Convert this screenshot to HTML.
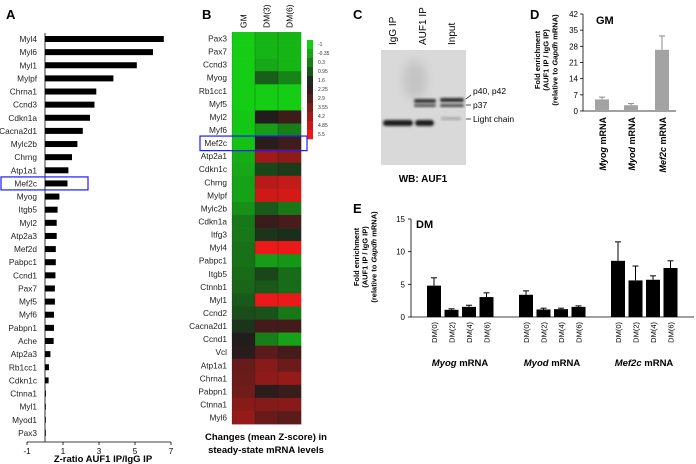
<!DOCTYPE html>
<html><head><meta charset="utf-8"><style>
body{margin:0;background:#fff}
svg{display:block;font-family:"Liberation Sans",Arial,sans-serif}
</style></head><body>
<svg id="fig" width="696" height="464" viewBox="0 0 696 464">
<defs>
<filter id="bl" x="-20%" y="-50%" width="140%" height="200%"><feGaussianBlur stdDeviation="1.2"/></filter>
<filter id="bl2" x="-50%" y="-50%" width="200%" height="200%"><feGaussianBlur stdDeviation="5"/></filter>
</defs>
<!-- Panel letters -->
<text x="6" y="19" font-size="13" font-weight="bold">A</text>
<text x="202" y="19" font-size="13" font-weight="bold">B</text>
<text x="353" y="19" font-size="13" font-weight="bold">C</text>
<text x="530" y="19" font-size="13" font-weight="bold">D</text>
<text x="353" y="213" font-size="13" font-weight="bold">E</text>

<g id="pA"></g>
<g id="pB"></g>

<!-- Panel C blot -->
<g>
<text transform="translate(396,45) rotate(-90)" font-size="10">IgG IP</text>
<text transform="translate(426,45) rotate(-90)" font-size="10">AUF1 IP</text>
<text transform="translate(455,45) rotate(-90)" font-size="10">Input</text>
<rect x="381" y="50" width="85" height="115" fill="#d9d9d9"/>
<ellipse cx="415" cy="80" rx="12" ry="20" fill="#c4c4c4" filter="url(#bl2)"/>
<rect x="383" y="120" width="30" height="6" rx="3" fill="#1a1a1a" filter="url(#bl)"/>
<rect x="415" y="120" width="19" height="6" rx="3" fill="#1a1a1a" filter="url(#bl)"/>
<rect x="414" y="99" width="22" height="4" rx="2" fill="#333" filter="url(#bl)"/>
<rect x="414" y="104" width="22" height="3" rx="1.5" fill="#555" filter="url(#bl)"/>
<rect x="440" y="98" width="24" height="4" rx="2" fill="#2a2a2a" filter="url(#bl)"/>
<rect x="440" y="104" width="24" height="3" rx="1.5" fill="#4a4a4a" filter="url(#bl)"/>
<rect x="441" y="117" width="20" height="3" rx="1.5" fill="#aaa" filter="url(#bl)"/>
<line x1="466" y1="99" x2="471" y2="95" stroke="#000" stroke-width="0.7"/>
<line x1="466" y1="105" x2="471" y2="105" stroke="#000" stroke-width="0.7"/>
<line x1="466" y1="119" x2="471" y2="119" stroke="#000" stroke-width="0.7"/>
<text x="473" y="94" font-size="8.5">p40, p42</text>
<text x="473" y="108" font-size="8.5">p37</text>
<text x="473" y="122" font-size="8.5">Light chain</text>
<text x="423" y="182" font-size="10" font-weight="bold" text-anchor="middle">WB: AUF1</text>
</g>

<g id="pD"></g>
<g id="pE"></g>
</svg>
<script>
const NS="http://www.w3.org/2000/svg";
function mk(parent,tag,attrs,text){const e=document.createElementNS(NS,tag);for(const k in attrs)e.setAttribute(k,attrs[k]);if(text!==undefined)e.textContent=text;parent.appendChild(e);return e;}

// ---------- Panel A data ----------
const aGenes=["Myl4","Myl6","Myl1","Mylpf","Chrna1","Ccnd3","Cdkn1a","Cacna2d1","Mylc2b","Chrng","Atp1a1","Mef2c","Myog","Itgb5","Myl2","Atp2a3","Mef2d","Pabpc1","Ccnd1","Pax7","Myf5","Myf6","Pabpn1","Ache","Atp2a3","Rb1cc1","Cdkn1c","Ctnna1","Myl1","Myod1","Pax3"];
const aValues=[6.6,6.0,5.1,3.8,2.85,2.75,2.5,2.1,1.8,1.5,1.3,1.25,0.8,0.7,0.65,0.65,0.6,0.6,0.58,0.55,0.55,0.5,0.5,0.48,0.3,0.22,0.2,0.05,0.04,0.02,0.02];
const aTicks=[-1,1,3,5,7];

(function(){
  const g=document.getElementById('pA');
  const xS=v=>45+v*18.0;
  const yS=i=>39+i*13.13;
  aGenes.forEach((n,i)=>{
    const r=mk(g,'rect',{x:xS(0),y:yS(i)-3,width:Math.max(0.8,xS(aValues[i])-xS(0)),height:6,fill:'#000'});
    
    
    const t=mk(g,'text',{x:37,y:yS(i)+3,'font-size':8.3,'text-anchor':'end',fill:'#222'},n);
    
    
  });
  mk(g,'line',{x1:xS(0),y1:33,x2:xS(0),y2:442,stroke:'#000','stroke-width':0.8});
  mk(g,'line',{x1:xS(-1),y1:442,x2:xS(7),y2:442,stroke:'#000','stroke-width':0.8});
  aTicks.forEach(v=>{
    mk(g,'line',{x1:xS(v),y1:442,x2:xS(v),y2:445,stroke:'#000','stroke-width':0.8});
    const t=mk(g,'text',{x:xS(v),y:454,'font-size':8,'text-anchor':'middle'},v);
    
    
  });
  const tt=mk(g,'text',{x:103,y:462,'font-size':9.5,'font-weight':'bold','text-anchor':'middle'},'Z-ratio AUF1 IP/IgG IP');
  
  
  const bx=mk(g,'rect',{x:1,y:yS(11)-6.5,width:87,height:13,fill:'none',stroke:'#1a1aff','stroke-width':1.2});
  
  
})();

// ---------- Panel B data ----------
const bGenes=["Pax3","Pax7","Ccnd3","Myog","Rb1cc1","Myf5","Myl2","Myf6","Mef2c","Atp2a1","Cdkn1c","Chrng","Mylpf","Mylc2b","Cdkn1a","Itfg3","Myl4","Pabpc1","Itgb5","Ctnnb1","Myl1","Ccnd2","Cacna2d1","Ccnd1","Vcl","Atp1a1","Chrna1","Pabpn1","Ctnna1","Myl6"];
const bColumns=["GM","DM(3)","DM(6)"];
const bGM=[-1,-1,-1,-1,-1,-1,-0.9,-0.9,-0.8,-0.5,-0.4,-0.3,-0.3,0,0.4,0.4,0.5,0.5,0.6,0.7,0.9,1.1,1.5,2.0,2.1,3.2,3.3,3.4,3.8,4.0];
const bDM3=[-0.6,-0.6,-0.4,0.8,-1,-1,2.0,-0.2,2.1,4.2,1.2,4.6,5.0,0.9,2.4,1.5,5.5,-0.2,1.2,0.9,5.5,1.0,2.6,0.3,3.0,3.8,3.9,2.2,3.7,3.2];
const bDM6=[-0.6,-0.6,-0.6,0.2,-1,-1,2.5,0.3,2.5,3.9,1.4,4.8,5.1,0.4,2.7,1.6,5.5,-0.1,0.6,0.6,5.5,0.4,2.6,-0.3,2.6,3.3,4.0,2.4,3.8,3.0];
const bLegend=["-1","-0.35","0.3","0.95","1.6","2.25","2.9","3.55","4.2","4.85","5.5"];

function heatColor(v){
  const lo=[20,205,20],mid=[28,28,28],hi=[235,25,25];
  let a,b,t;
  if(v<1.9){a=lo;b=mid;t=(v+1)/2.9;}else{a=mid;b=hi;t=(v-1.9)/3.6;}
  t=Math.max(0,Math.min(1,t));
  return 'rgb('+a.map((c,i)=>Math.round(c+(b[i]-c)*t)).join(',')+')';
}
(function(){
  const g=document.getElementById('pB');
  const x0=232,cw=23,y0=32,rh=13.07;
  const cols=[bGM,bDM3,bDM6];
  cols.forEach((arr,c)=>{
    arr.forEach((v,r)=>{
      const rc=mk(g,'rect',{x:x0+c*cw,y:y0+r*rh,width:cw+0.3,height:rh+0.3,fill:heatColor(v)});
      
      
    });
    mk(g,'line',{x1:x0+c*cw,y1:y0,x2:x0+c*cw,y2:y0+30*rh,stroke:'#111','stroke-width':0.4,opacity:0.5});
    const t=mk(g,'text',{transform:'translate('+(x0+c*cw+cw/2+3)+',28) rotate(-90)','font-size':8.5,'text-anchor':'start'},bColumns[c]);
    
    
    t.setAttribute('transform','translate('+(x0+c*cw+cw/2+3)+',28) rotate(-90)');
  });
  bGenes.forEach((n,r)=>{
    const t=mk(g,'text',{x:227,y:y0+r*rh+rh/2+3,'font-size':8.3,'text-anchor':'end',fill:'#222'},n);
    
    
  });
  // legend
  const lh=9;
  bLegend.forEach((l,i)=>{
    const rc=mk(g,'rect',{x:307,y:40+i*lh,width:6,height:lh+0.3,fill:heatColor(parseFloat(l))});
    
    
    const t=mk(g,'text',{x:318,y:40+i*lh+6,'font-size':5,fill:'#333'},l);
    
    
  });
  const bx=mk(g,'rect',{x:200,y:y0+8*rh-0.5,width:107,height:rh+1.5,fill:'none',stroke:'#1a1aff','stroke-width':1.2});
  
  
  const c1=mk(g,'text',{x:266,y:440,'font-size':9.5,'font-weight':'bold','text-anchor':'middle'},'Changes (mean Z-score) in');
  
  
  const c2=mk(g,'text',{x:266,y:453,'font-size':9.5,'font-weight':'bold','text-anchor':'middle'},'steady-state mRNA levels');
  
  
})();

// ---------- Panel D data ----------
const dCats=["Myog","Myod","Mef2c"];
const dValues=[5.0,2.5,26.5];
const dErrors=[6.0,3.2,32.5];
const dTicks=[0,7,14,21,28,35,42];

function yTitle(g,cx,cy,fs){
  const lines=[["Fold enrichment"],["(AUF1 IP / IgG IP)"],["(relative to ","Gapdh"," mRNA)"]];
  lines.forEach((ln,i)=>{
    const t=mk(g,'text',{transform:'translate('+(cx+i*fs*1.15)+','+cy+') rotate(-90)','font-size':fs,'font-weight':'bold','text-anchor':'middle'});
    
    
    ln.forEach((s,j)=>{const sp=mk(t,'tspan',{},s);if(j===1)sp.setAttribute('font-style','italic');});
  });
}
(function(){
  const g=document.getElementById('pD');
  const yS=v=>111-v*(97/42);
  const xAxis=583;
  const centers=[602,631,662];
  mk(g,'line',{x1:xAxis,y1:yS(42),x2:xAxis,y2:yS(0),stroke:'#000','stroke-width':0.8});
  mk(g,'line',{x1:xAxis,y1:yS(0),x2:676,y2:yS(0),stroke:'#000','stroke-width':0.8});
  dTicks.forEach(v=>{
    mk(g,'line',{x1:xAxis-3,y1:yS(v),x2:xAxis,y2:yS(v),stroke:'#000','stroke-width':0.8});
    const t=mk(g,'text',{x:xAxis-5,y:yS(v)+3,'font-size':8,'text-anchor':'end'},v);
    
    
  });
  dCats.forEach((c,i)=>{
    const cx=centers[i];
    mk(g,'line',{x1:cx,y1:yS(dValues[i]),x2:cx,y2:yS(dErrors[i]),stroke:'#888','stroke-width':1});
    mk(g,'line',{x1:cx-3,y1:yS(dErrors[i]),x2:cx+3,y2:yS(dErrors[i]),stroke:'#888','stroke-width':1});
    const r=mk(g,'rect',{x:cx-7,y:yS(dValues[i]),width:14,height:yS(0)-yS(dValues[i]),fill:'#a3a3a3'});
    
    
    const t=mk(g,'text',{transform:'translate('+(cx+4)+',117) rotate(-90)','font-size':9,'font-weight':'bold','text-anchor':'end'});
    
    
    mk(t,'tspan',{'font-style':'italic'},c);
    mk(t,'tspan',{},' mRNA');
  });
  const gm=mk(g,'text',{x:596,y:24,'font-size':11,'font-weight':'bold'},'GM');
  
  
  yTitle(g,540,60,7.5);
})();

// ---------- Panel E data ----------
const eGroups=["Myog","Myod","Mef2c"];
const eDays=["DM(0)","DM(2)","DM(4)","DM(6)"];
const eMyog=[4.8,1.1,1.55,3.05];
const eMyogErr=[6.0,1.25,1.8,3.7];
const eMyod=[3.4,1.15,1.2,1.55];
const eMyodErr=[4.0,1.35,1.35,1.7];
const eMef2c=[8.6,5.6,5.7,7.5];
const eMef2cErr=[11.5,7.8,6.3,8.6];
const eTicks=[0,5,10,15];
(function(){
  const g=document.getElementById('pE');
  const yS=v=>317-v*(98/15);
  const xAxis=411;
  const vals=[eMyog,eMyod,eMef2c],errs=[eMyogErr,eMyodErr,eMef2cErr];
  mk(g,'line',{x1:xAxis,y1:yS(15),x2:xAxis,y2:yS(0),stroke:'#000','stroke-width':0.8});
  mk(g,'line',{x1:xAxis,y1:yS(0),x2:694,y2:yS(0),stroke:'#000','stroke-width':0.8});
  eTicks.forEach(v=>{
    mk(g,'line',{x1:xAxis-3,y1:yS(v),x2:xAxis,y2:yS(v),stroke:'#000','stroke-width':0.8});
    const t=mk(g,'text',{x:xAxis-6,y:yS(v)+3,'font-size':8,'text-anchor':'end'},v);
    
    
  });
  eGroups.forEach((gn,gi)=>{
    const gx=434+gi*92;
    eDays.forEach((d,di)=>{
      const cx=gx+di*17.5;
      const v=vals[gi][di],e=errs[gi][di];
      mk(g,'line',{x1:cx,y1:yS(v),x2:cx,y2:yS(e),stroke:'#000','stroke-width':1});
      mk(g,'line',{x1:cx-3,y1:yS(e),x2:cx+3,y2:yS(e),stroke:'#000','stroke-width':1});
      const r=mk(g,'rect',{x:cx-7,y:yS(v),width:14,height:yS(0)-yS(v),fill:'#000'});
      
      
      const t=mk(g,'text',{transform:'translate('+(cx+3)+',322) rotate(-90)','font-size':7.5,'text-anchor':'end'},d);
      
      
    });
    const t=mk(g,'text',{x:gx+26,y:366,'font-size':9.5,'font-weight':'bold','text-anchor':'middle'});
    
    
    mk(t,'tspan',{'font-style':'italic'},gn);
    mk(t,'tspan',{},' mRNA');
  });
  const dm=mk(g,'text',{x:416,y:228,'font-size':11,'font-weight':'bold'},'DM');
  
  
  yTitle(g,359,257,7.5);
})();
</script>
</body></html>
